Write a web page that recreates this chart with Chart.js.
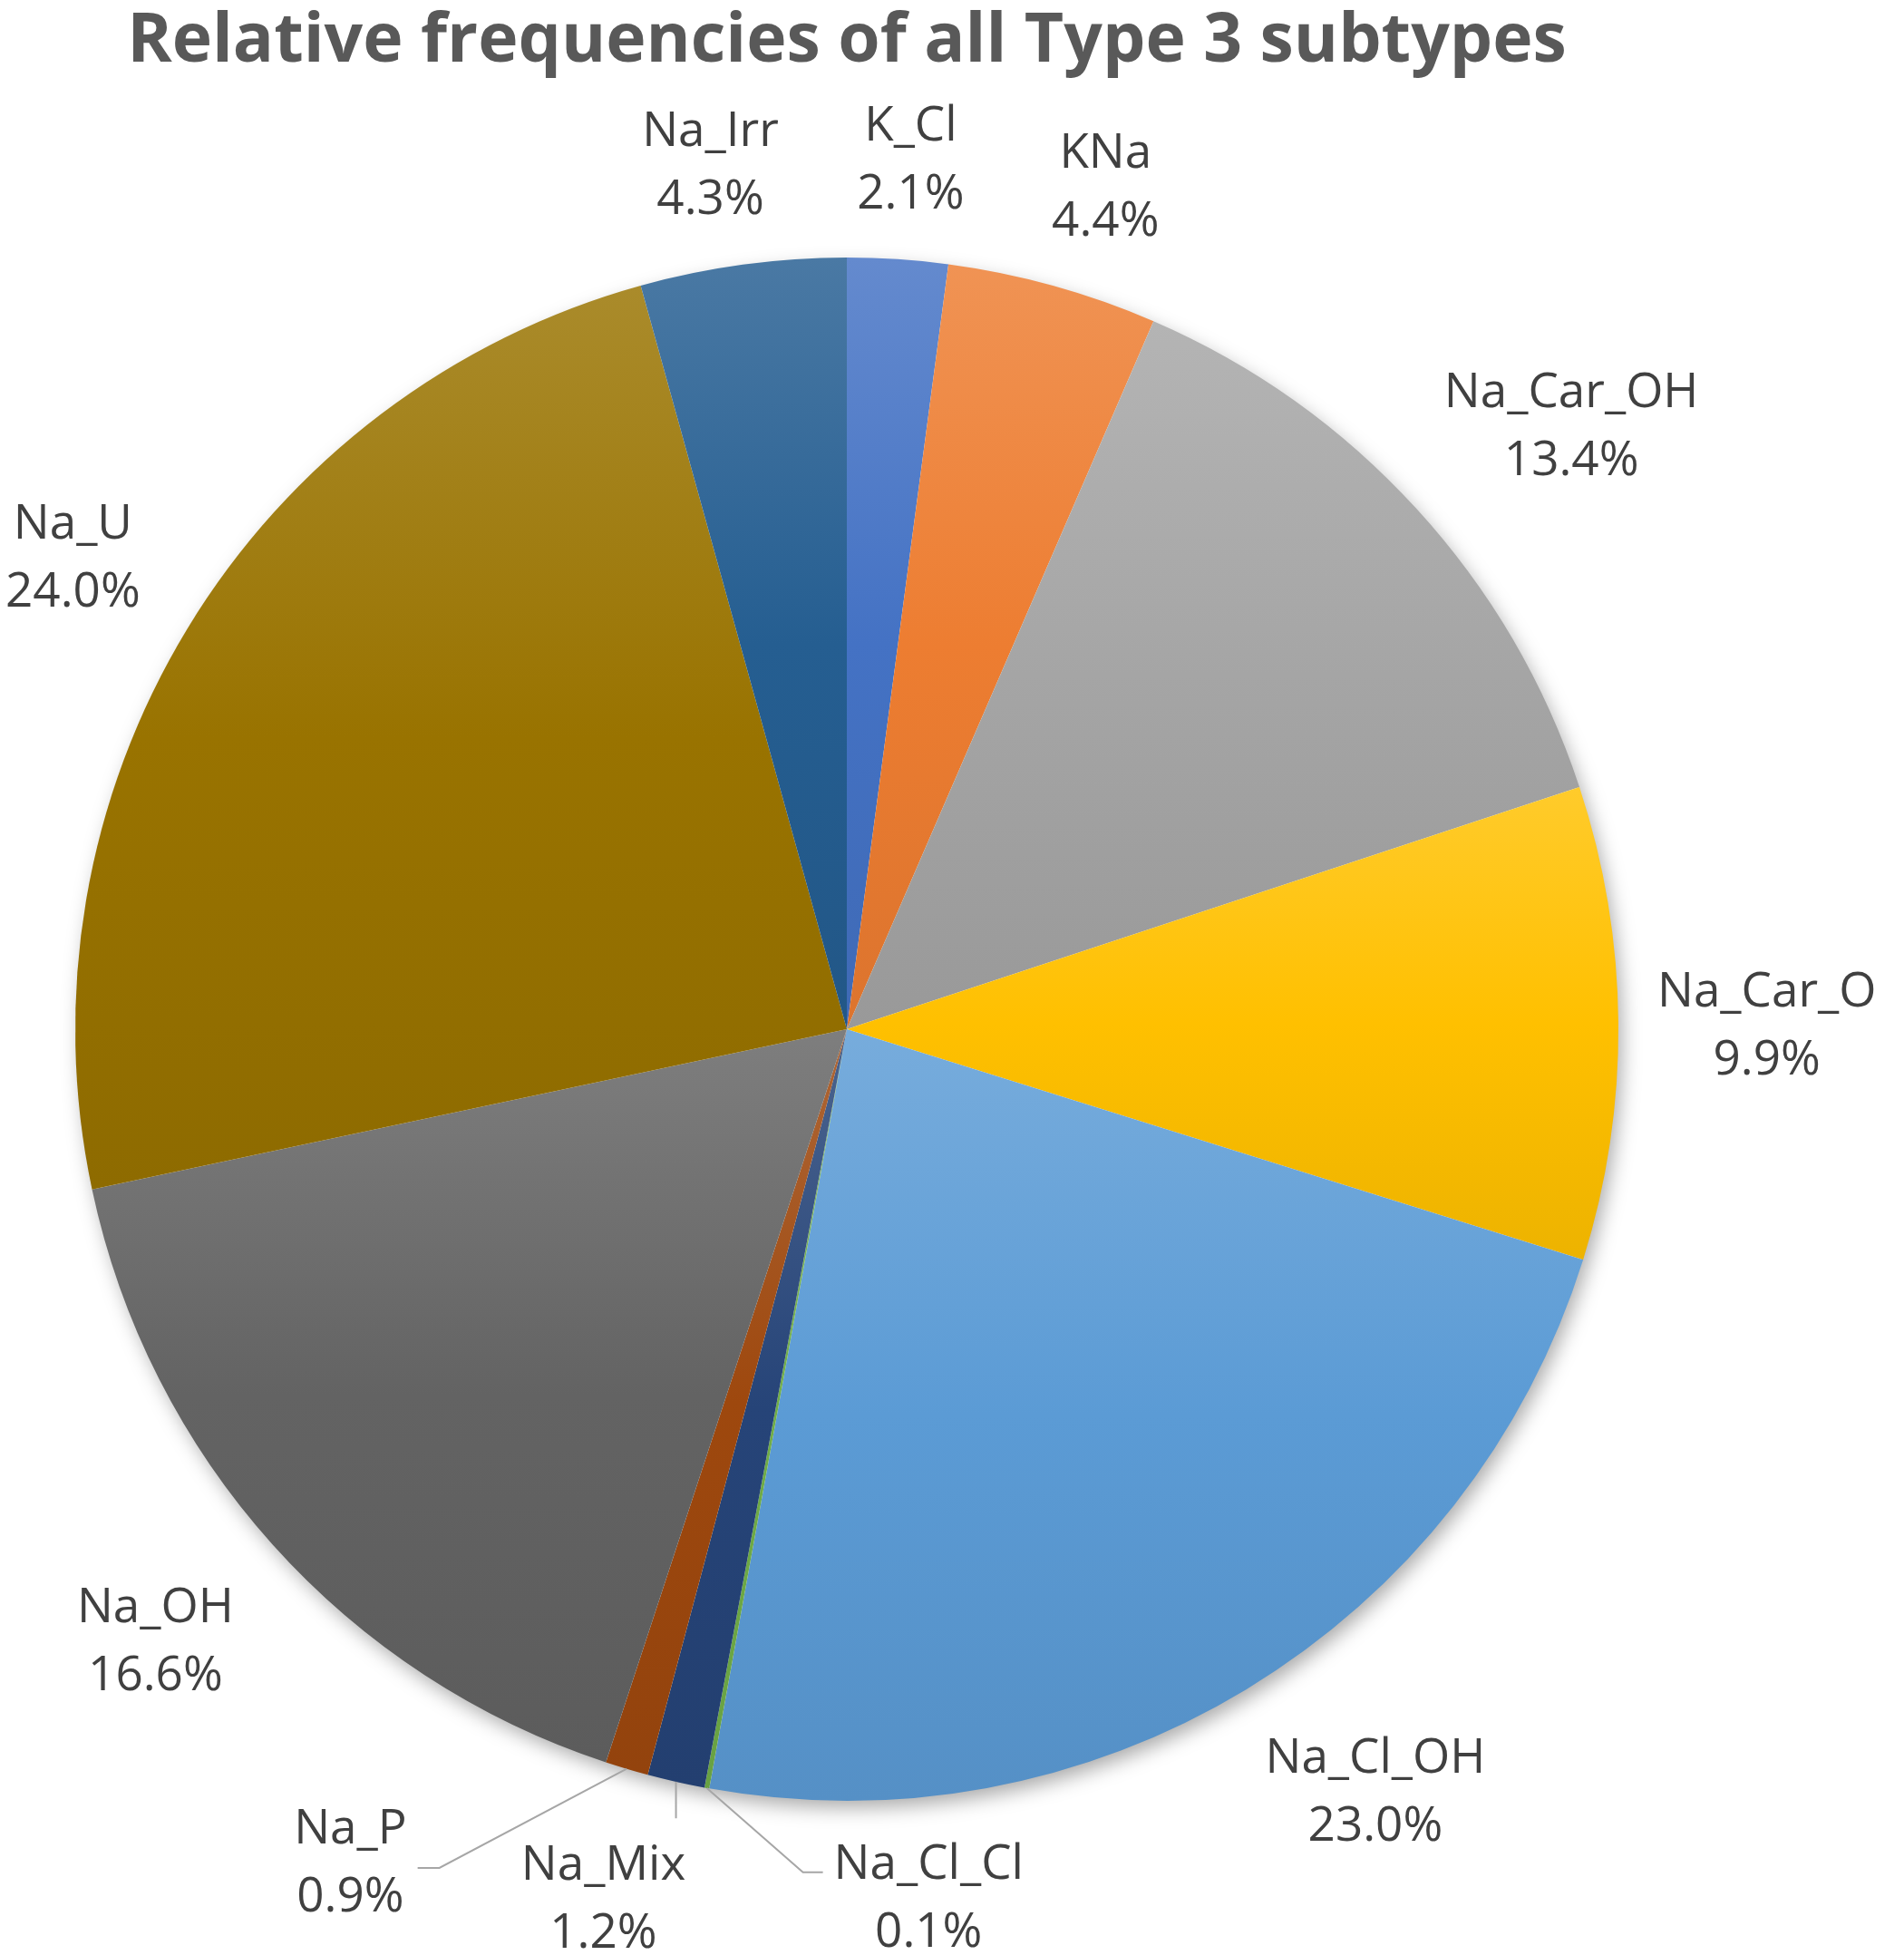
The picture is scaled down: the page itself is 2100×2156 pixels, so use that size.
<!DOCTYPE html>
<html>
<head>
<meta charset="utf-8">
<script src="https://cdn.jsdelivr.net/npm/chart.js@4.4.1/dist/chart.umd.min.js"></script>
<style>
  html, body { margin: 0; padding: 0; background: #fff; }
  #wrap { width: 2100px; height: 2156px; position: relative; }
</style>
</head>
<body>
<div id="wrap"><canvas id="grafica"></canvas></div>
<script>
// datos (porcentajes), empezando arriba y en sentido horario
const subtipos = ['K_Cl', 'KNa', 'Na_Car_OH', 'Na_Car_O', 'Na_Cl_OH', 'Na_Cl_Cl', 'Na_Mix', 'Na_P', 'Na_OH', 'Na_U', 'Na_Irr'];
const porcentajes = [2.1, 4.4, 13.4, 9.9, 23.0, 0.1, 1.2, 0.9, 16.6, 24.0, 4.3];
const coloresBase = ['#4472C4', '#ED7D31', '#A5A5A5', '#FFC000', '#5B9BD5', '#70AD47', '#264478', '#9E480E', '#636363', '#997300', '#255E91'];

// etiquetas pequeñas que Excel saca con linea guia (angulo en grados desde arriba, distancia en radios)
const guias = {
    'Na_Cl_Cl': { ang: 174.6, dist: 1.127, lado: 'der' },
    'Na_Mix':   { ang: 195.7, dist: 1.166, lado: 'abajo' },
    'Na_P':     { ang: 210.9, dist: 1.253, lado: 'izq' }
};

function mezclar(hex, otro, t) {
    let a = parseInt(hex.slice(1), 16), b = parseInt(otro.slice(1), 16);
    let r = Math.round(((a >> 16) & 255) * (1 - t) + ((b >> 16) & 255) * t);
    let g = Math.round(((a >> 8) & 255) * (1 - t) + ((b >> 8) & 255) * t);
    let bl = Math.round((a & 255) * (1 - t) + (b & 255) * t);
    return 'rgb(' + r + ',' + g + ',' + bl + ')';
}

// rango vertical de un sector (para el degradado de cada porcion, como en Excel)
function rangoY(x, y, r, s, e) {
    let ys = [y, y + Math.sin(s) * r, y + Math.sin(e) * r];
    [-Math.PI / 2, Math.PI / 2, 3 * Math.PI / 2].forEach(a => {
        if (a > s && a < e) ys.push(y + Math.sin(a) * r);
    });
    return [Math.min(...ys), Math.max(...ys)];
}

function degradado(context) {
    let i = context.dataIndex;
    let base = coloresBase[i];
    let chart = context.chart;
    let area = chart.chartArea;
    if (!area) return base;
    let total = porcentajes.reduce((t, v) => t + v, 0);
    let antes = porcentajes.slice(0, i).reduce((t, v) => t + v, 0);
    let s = -Math.PI / 2 + 2 * Math.PI * antes / total;
    let e = s + 2 * Math.PI * porcentajes[i] / total;
    let cx = (area.left + area.right) / 2, cy = (area.top + area.bottom) / 2;
    let r = Math.min(area.width, area.height) / 2;
    let [y0, y1] = rangoY(cx, cy, r, s, e);
    if (y1 - y0 < 1) y1 = y0 + 1;
    let g = chart.ctx.createLinearGradient(0, y0, 0, y1);
    g.addColorStop(0, mezclar(base, '#ffffff', 0.17));
    g.addColorStop(0.5, base);
    g.addColorStop(1, mezclar(base, '#000000', 0.07));
    return g;
}

// sombra suave bajo la tarta
const sombra = {
    id: 'sombra',
    beforeDatasetsDraw(chart) {
        let arc = chart.getDatasetMeta(0).data[0];
        if (!arc) return;
        let ctx = chart.ctx;
        ctx.save();
        ctx.shadowColor = 'rgba(0,0,0,0.35)';
        ctx.shadowBlur = 22;
        ctx.shadowOffsetX = 5;
        ctx.shadowOffsetY = 9;
        ctx.fillStyle = '#ffffff';
        ctx.beginPath();
        ctx.arc(arc.x, arc.y, arc.outerRadius - 2, 0, Math.PI * 2);
        ctx.fill();
        ctx.restore();
    }
};

function limitar(v) { return Math.max(-1, Math.min(1, v)); }

// etiquetas exteriores: nombre y porcentaje
const etiquetas = {
    id: 'etiquetas',
    afterDatasetsDraw(chart) {
        let ctx = chart.ctx;
        let meta = chart.getDatasetMeta(0);
        let alto = 75;
        ctx.save();
        ctx.font = '53px "Open Sans"';
        ctx.fillStyle = '#404040';
        ctx.textAlign = 'center';
        ctx.textBaseline = 'middle';
        meta.data.forEach((arc, i) => {
            let nombre = subtipos[i];
            let texto2 = porcentajes[i].toFixed(1) + '%';
            let w = Math.max(ctx.measureText(nombre).width, ctx.measureText(texto2).width);
            let r = arc.outerRadius;
            let medio = (arc.startAngle + arc.endAngle) / 2;
            let cx, cy;
            let g = guias[nombre];
            if (g) {
                let a = (g.ang - 90) * Math.PI / 180;
                cx = arc.x + Math.cos(a) * r * g.dist;
                cy = arc.y + Math.sin(a) * r * g.dist;
                // linea guia
                let px = arc.x + Math.cos(medio) * r;
                let py = arc.y + Math.sin(medio) * r;
                ctx.save();
                ctx.strokeStyle = '#A6A6A6';
                ctx.lineWidth = 2;
                ctx.beginPath();
                ctx.moveTo(px, py);
                if (g.lado === 'izq') {
                    let ex = cx + w / 2 + 12, ey = cy + 10;
                    ctx.lineTo(ex + 24, ey);
                    ctx.lineTo(ex, ey);
                } else if (g.lado === 'der') {
                    let ex = cx - w / 2 - 12, ey = cy - 25;
                    ctx.lineTo(ex - 22, ey);
                    ctx.lineTo(ex, ey);
                } else {
                    ctx.lineTo(px, cy - alto - 10);
                }
                ctx.stroke();
                ctx.restore();
            } else {
                // punto de anclaje fuera del borde y caja de texto pegada a el
                let dx = Math.cos(medio), dy = Math.sin(medio);
                let sep = dx < 0 ? 35 + 30 * Math.abs(dx) : 38 + 5 * dx;
                cx = arc.x + dx * (r + sep) + limitar(dx * 3) * w / 2;
                cy = arc.y + dy * (r + sep) + limitar(dy * 1.3) * alto;
            }
            ctx.fillText(nombre, cx, cy - alto / 2 + 5);
            ctx.fillText(texto2, cx, cy + alto / 2 + 5);
        });
        ctx.restore();
    }
};

let ctx = document.getElementById('grafica').getContext('2d');
let miGrafica = new Chart(ctx, {
    type: 'pie',
    data: {
        labels: subtipos,
        datasets: [{
            data: porcentajes,
            backgroundColor: degradado,
            borderWidth: 0
        }]
    },
    options: {
        responsive: true,
        maintainAspectRatio: false,
        animation: false,
        devicePixelRatio: 1,
        layout: { padding: { left: 83, right: 315, top: 0, bottom: 170 } },
        plugins: {
            legend: { display: false },
            tooltip: { enabled: false },
            title: {
                display: true,
                text: 'Relative frequencies of all Type 3 subtypes',
                color: '#595959',
                font: { family: '"Open Sans"', size: 75, weight: 'bold', lineHeight: 1.2 },
                padding: { top: 2, bottom: 192 }
            }
        }
    },
    plugins: [sombra, etiquetas]
});
</script>
</body>
</html>
